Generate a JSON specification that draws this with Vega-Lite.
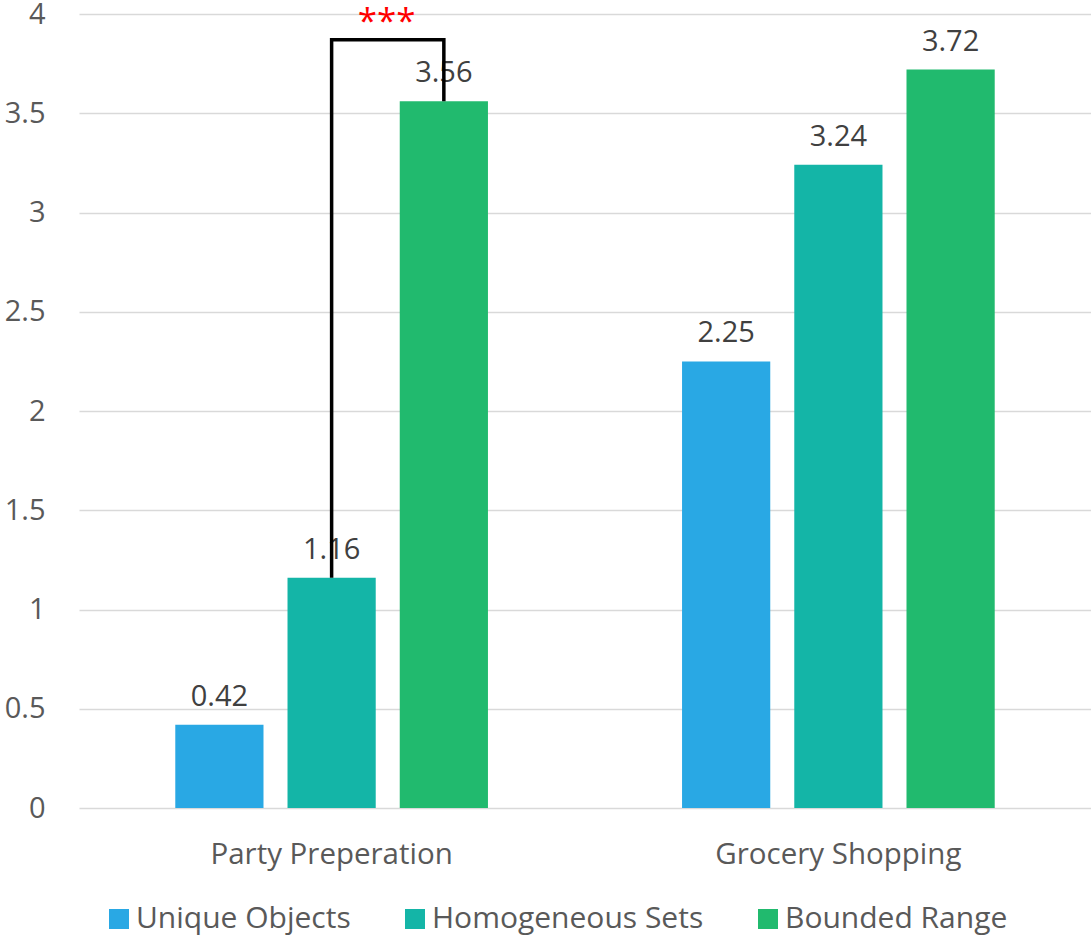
{
  "$schema": "https://vega.github.io/schema/vega-lite/v6.json",
  "width": 1012,
  "height": 794,
  "autosize": {"type": "none"},
  "padding": {"left": 79, "top": 14, "right": 0, "bottom": 129},
  "background": "white",
  "config": {"view": {"stroke": null}, "font": "Open Sans"},
  "datasets": {
    "bars": [
      {"task": "Party Preperation", "condition": "Unique Objects", "value": 0.42},
      {"task": "Party Preperation", "condition": "Homogeneous Sets", "value": 1.16},
      {"task": "Party Preperation", "condition": "Bounded Range", "value": 3.56},
      {"task": "Grocery Shopping", "condition": "Unique Objects", "value": 2.25},
      {"task": "Grocery Shopping", "condition": "Homogeneous Sets", "value": 3.24},
      {"task": "Grocery Shopping", "condition": "Bounded Range", "value": 3.72}
    ],
    "bracket": [
      {"task": "Party Preperation", "condition": "Homogeneous Sets", "value": 1.16, "idx": 1},
      {"task": "Party Preperation", "condition": "Homogeneous Sets", "value": 3.87, "idx": 2},
      {"task": "Party Preperation", "condition": "Bounded Range", "value": 3.87, "idx": 3},
      {"task": "Party Preperation", "condition": "Bounded Range", "value": 3.56, "idx": 4}
    ],
    "sig": [
      {"task": "Party Preperation", "condition": "Homogeneous Sets", "value": 3.96, "label": "***"}
    ]
  },
  "encoding": {
    "x": {
      "field": "task",
      "type": "nominal",
      "sort": ["Party Preperation", "Grocery Shopping"],
      "scale": {"paddingInner": 0.383, "paddingOuter": 0.19},
      "axis": {
        "title": null,
        "labelAngle": 0,
        "labelFontSize": 29.5,
        "labelColor": "#595959",
        "labelPadding": 32,
        "labelLimit": 0,
        "ticks": false,
        "domain": false
      }
    },
    "xOffset": {
      "field": "condition",
      "type": "nominal",
      "sort": ["Unique Objects", "Homogeneous Sets", "Bounded Range"],
      "scale": {"paddingInner": 0.214, "paddingOuter": 0}
    },
    "y": {
      "field": "value",
      "type": "quantitative",
      "scale": {"domain": [0, 4], "nice": false},
      "axis": {
        "title": null,
        "values": [0, 0.5, 1, 1.5, 2, 2.5, 3, 3.5, 4],
        "format": "~g",
        "labelFontSize": 29,
        "labelColor": "#595959",
        "labelPadding": 34,
        "ticks": false,
        "domain": false,
        "grid": true,
        "gridColor": "#d9d9d9",
        "gridWidth": 1.5
      }
    }
  },
  "layer": [
    {
      "data": {"name": "bars"},
      "mark": {"type": "bar"},
      "encoding": {
        "color": {
          "field": "condition",
          "type": "nominal",
          "sort": ["Unique Objects", "Homogeneous Sets", "Bounded Range"],
          "scale": {
            "domain": ["Unique Objects", "Homogeneous Sets", "Bounded Range"],
            "range": ["#29A8E4", "#14B5A7", "#21BA6E"]
          },
          "legend": {
            "title": null,
            "orient": "none",
            "direction": "horizontal",
            "legendX": 25,
            "legendY": 890,
            "symbolType": "square",
            "symbolSize": 400,
            "symbolStrokeWidth": 0,
            "labelFontSize": 30,
            "labelColor": "#595959",
            "labelOffset": 2,
            "labelLimit": 0,
            "columnPadding": 49
          }
        }
      }
    },
    {
      "data": {"name": "bars"},
      "mark": {"type": "text", "baseline": "alphabetic", "dy": -19, "fontSize": 29, "color": "#404040"},
      "encoding": {
        "text": {"field": "value", "type": "quantitative", "format": ".2f"}
      }
    },
    {
      "data": {"name": "bracket"},
      "mark": {"type": "line", "color": "black", "strokeWidth": 3.5, "strokeJoin": "miter", "strokeCap": "butt"},
      "encoding": {
        "order": {"field": "idx", "type": "quantitative"}
      }
    },
    {
      "data": {"name": "sig"},
      "mark": {"type": "text", "baseline": "middle", "dx": 55, "fontSize": 35, "color": "#FF0000"},
      "encoding": {
        "text": {"field": "label", "type": "nominal"}
      }
    }
  ]
}
